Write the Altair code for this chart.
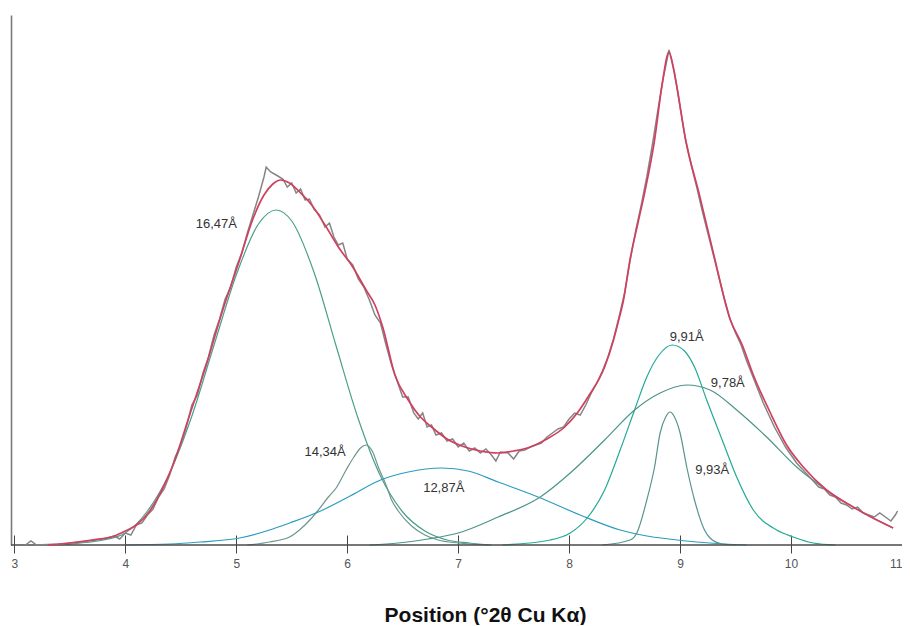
import altair as alt
import pandas as pd

# ---- measured pattern (grey, noisy) ----
data_x = [3.10, 3.15, 3.20, 3.40, 3.60, 3.80, 3.90, 3.95, 4.00, 4.05, 4.10, 4.15, 4.20, 4.25, 4.30, 4.35,
          4.40, 4.45, 4.50, 4.55, 4.60, 4.65, 4.70, 4.75, 4.80, 4.85, 4.90, 4.95, 5.00, 5.05, 5.10, 5.15,
          5.20, 5.25, 5.27, 5.31, 5.36, 5.42, 5.46, 5.50, 5.54, 5.58, 5.62, 5.66, 5.70, 5.75, 5.80, 5.84,
          5.88, 5.92, 5.96, 6.00, 6.05, 6.10, 6.15, 6.20, 6.25, 6.30, 6.35, 6.40, 6.45, 6.50, 6.55, 6.60,
          6.64, 6.68, 6.72, 6.76, 6.80, 6.85, 6.90, 6.95, 7.00, 7.05, 7.10, 7.15, 7.20, 7.25, 7.30, 7.34,
          7.38, 7.45, 7.50, 7.55, 7.60, 7.65, 7.70, 7.75, 7.80, 7.85, 7.90, 7.95, 8.00, 8.05, 8.10, 8.15,
          8.20, 8.25, 8.30, 8.35, 8.40, 8.45, 8.50, 8.55, 8.60, 8.65, 8.70, 8.75, 8.80, 8.85, 8.90, 8.95,
          9.00, 9.05, 9.10, 9.15, 9.20, 9.25, 9.30, 9.35, 9.40, 9.45, 9.50, 9.55, 9.60, 9.65, 9.70, 9.75,
          9.80, 9.85, 9.90, 9.95, 10.00, 10.05, 10.10, 10.15, 10.20, 10.25, 10.30, 10.35, 10.40, 10.45,
          10.50, 10.55, 10.60, 10.65, 10.70, 10.75, 10.80, 10.85, 10.90, 10.94, 10.96]
data_y = [0, 4, 0, 1, 3, 6, 9, 6, 12, 10, 20, 22, 30, 36, 48, 56,
          70, 88, 100, 118, 140, 150, 172, 188, 210, 226, 246, 258, 278, 292, 312, 330,
          348, 368, 378, 373, 370, 366, 358, 362, 352, 356, 345, 346, 336, 330, 318, 322,
          308, 300, 302, 286, 280, 266, 258, 245, 230, 222, 200, 180, 164, 148, 148, 132,
          126, 132, 118, 120, 110, 112, 104, 106, 98, 102, 94, 97, 92, 96, 90, 84,
          93, 92, 86, 94, 95, 98, 100, 102, 108, 112, 116, 118, 126, 132, 130, 140,
          152, 162, 174, 188, 206, 228, 252, 285, 314, 340, 368, 400, 435, 468, 495, 472,
          438, 405, 380, 358, 334, 312, 290, 268, 246, 226, 212, 200, 184, 170, 156, 142,
          130, 118, 108, 98, 90, 82, 76, 70, 64, 58, 56, 50, 48, 42,
          40, 36, 38, 32, 30, 28, 32, 28, 24, 30, 34]

# ---- fitted sum (red) ----
fit_x = [3.30, 3.50, 3.70, 3.90, 4.00, 4.10, 4.22, 4.33, 4.43, 4.58, 4.73, 4.87, 5.03, 5.15, 5.25, 5.33,
         5.40, 5.48, 5.58, 5.68, 5.80, 5.92, 6.05, 6.17, 6.25, 6.32, 6.43, 6.55, 6.66, 6.76, 6.90, 7.06,
         7.20, 7.36, 7.50, 7.65, 7.80, 7.96, 8.08, 8.17, 8.32, 8.40, 8.44, 8.49, 8.55, 8.62, 8.68, 8.77,
         8.84, 8.90, 8.96, 9.05, 9.17, 9.30, 9.45, 9.56, 9.66, 9.81, 9.96, 10.11, 10.32, 10.56, 10.72, 10.92]
fit_y = [0, 2, 5, 9, 14, 20, 34, 55, 80, 130, 180, 232, 285, 326, 350, 361,
         365, 362, 352, 340, 320, 298, 278, 255, 240, 218, 170, 145, 128, 118, 106, 98,
         94, 92, 94, 98, 106, 118, 133, 148, 178, 205, 222, 245, 286, 322, 352, 405,
         462, 493, 465, 405, 352, 292, 226, 200, 170, 133, 100, 78, 55, 38, 28, 17]

# ---- fitted components ----
c1647_x = [3.40, 3.60, 3.80, 4.00, 4.20, 4.40, 4.60, 4.80, 5.00, 5.20, 5.36, 5.50, 5.70, 5.90, 6.10, 6.30,
           6.50, 6.70, 6.90, 7.10, 7.30]
c1647_y = [0, 2, 5, 12, 34, 72, 129, 200, 270, 321, 335, 324, 273, 199, 126, 69,
           33, 14, 5, 2, 0]

c1434_x = [5.10, 5.30, 5.48, 5.57, 5.68, 5.74, 5.83, 5.90, 5.99, 6.06, 6.12, 6.17, 6.23, 6.28, 6.35, 6.40,
           6.46, 6.58, 6.70, 6.82, 7.00, 7.27]
c1434_y = [0, 3, 8, 15, 27, 35, 48, 57, 75, 88, 97, 100, 93, 78, 60, 45,
           34, 19, 10, 5, 2, 0]

c1287_x = [4.00, 4.40, 4.67, 5.03, 5.30, 5.48, 5.74, 6.01, 6.30, 6.55, 6.85, 7.09, 7.36, 7.72, 8.10, 8.46,
           8.70, 8.90, 9.15, 9.40, 9.60]
c1287_y = [0, 1, 3, 7, 15, 22, 33, 48, 65, 73, 77, 74, 63, 48, 30, 15,
           9, 6, 3, 1, 0]

c991_x = [7.40, 7.83, 8.01, 8.17, 8.32, 8.46, 8.59, 8.70, 8.81, 8.93, 9.04, 9.13, 9.24, 9.39, 9.51, 9.66,
          9.87, 10.02, 10.20, 10.40]
c991_y = [0, 5, 12, 28, 55, 95, 135, 168, 190, 200, 194, 178, 145, 102, 68, 35,
          15, 8, 2, 0]

c978_x = [6.20, 6.46, 6.73, 7.00, 7.36, 7.74, 8.01, 8.32, 8.59, 8.82, 9.06, 9.27, 9.51, 9.78, 10.05, 10.32,
          10.56, 10.92]
c978_y = [0, 2, 6, 12, 28, 48, 72, 105, 135, 152, 160, 155, 135, 108, 78, 55,
          38, 17]

c993_x = [8.30, 8.55, 8.61, 8.70, 8.77, 8.82, 8.87, 8.91, 8.95, 9.00, 9.06, 9.13, 9.22, 9.27, 9.38, 9.50]
c993_y = [0, 5, 12, 45, 78, 112, 128, 133, 128, 112, 78, 45, 15, 7, 1, 0]

# ---- peak labels ----
label_text = ["16,47Å", "14,34Å", "12,87Å", "9,91Å", "9,78Å", "9,93Å"]
label_x = [4.82, 5.80, 6.87, 9.06, 9.43, 9.29]
label_y = [321, 93, 57, 208, 162, 75]

tick_values = [3, 4, 5, 6, 7, 8, 9, 10, 11]

comp_names = ["16,47", "14,34", "12,87", "9,91", "9,78", "9,93"]
comp_colors = ["#4a9f8a", "#6d968f", "#2a9cbf", "#22aa97", "#4c948a", "#5b948d"]
comp_xs = [c1647_x, c1434_x, c1287_x, c991_x, c978_x, c993_x]
comp_ys = [c1647_y, c1434_y, c1287_y, c991_y, c978_y, c993_y]

rows = []
for name, xs, ys in zip(comp_names, comp_xs, comp_ys):
    for a, b in zip(xs, ys):
        rows.append({"x": a, "y": b, "series": name})
comp_df = pd.DataFrame(rows)
data_df = pd.DataFrame({"x": data_x, "y": data_y})
fit_df = pd.DataFrame({"x": fit_x, "y": fit_y})
lab_df = pd.DataFrame({"x": label_x, "y": label_y, "t": label_text})

W, H = 891, 530
xscale = alt.Scale(domain=[2.97, 11.0], nice=False, zero=False)
yscale = alt.Scale(domain=[0, 530], nice=False, zero=True)

xaxis = alt.Axis(values=tick_values, format="d", domain=False, grid=False, offset=-10,
                 tickSize=18, tickColor="#444", tickWidth=1, labelFlush=2,
                 labelFont="Liberation Sans", labelFontSize=12, labelColor="#555", labelPadding=5,
                 title="Position (°2θ Cu Kα)", titleFont="Liberation Sans", titleFontSize=21,
                 titleFontWeight="bold", titleColor="#111", titleX=474, titleY=86,
                 titleAlign="center", titleBaseline="alphabetic", titleAnchor="start")
yaxis = alt.Axis(domain=True, ticks=False, labels=False, grid=False, title=None,
                 domainColor="#7a7a7a", domainWidth=1.6)

comps = alt.Chart(comp_df).mark_line(interpolate="monotone", strokeWidth=1.2).encode(
    x=alt.X("x:Q", scale=xscale, axis=xaxis),
    y=alt.Y("y:Q", scale=yscale, axis=yaxis),
    color=alt.Color("series:N", scale=alt.Scale(domain=comp_names, range=comp_colors), legend=None),
)

baseline = alt.Chart(pd.DataFrame({"y": [0]})).mark_rule(color="#4a4a4a", strokeWidth=1.6).encode(
    y=alt.Y("y:Q", scale=yscale)
)

data_line = alt.Chart(data_df).mark_line(color="#858585", strokeWidth=1.5).encode(
    x=alt.X("x:Q", scale=xscale), y=alt.Y("y:Q", scale=yscale)
)
fit_line = alt.Chart(fit_df).mark_line(color="#d0415f", strokeWidth=1.7, interpolate="monotone").encode(
    x=alt.X("x:Q", scale=xscale), y=alt.Y("y:Q", scale=yscale)
)
labels = alt.Chart(lab_df).mark_text(font="Liberation Sans", fontSize=13, color="#333333",
                                      align="center", baseline="middle").encode(
    x=alt.X("x:Q", scale=xscale), y=alt.Y("y:Q", scale=yscale), text="t:N"
)

chart = alt.layer(comps, baseline, data_line, fit_line, labels).properties(
    width=W, height=H,
    autosize=alt.AutoSizeParams(type="none"),
    padding={"left": 3, "top": 7, "right": 0, "bottom": 80},
).configure_view(stroke=None)

chart.save("out.html", embed_options={"renderer": "svg", "actions": False})
